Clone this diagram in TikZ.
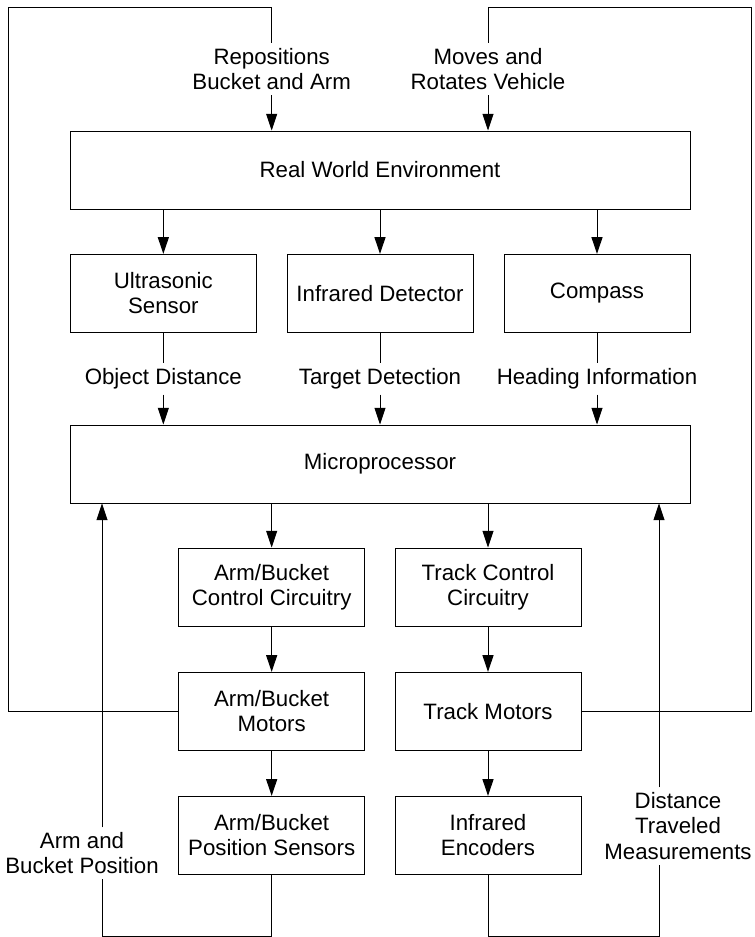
\documentclass[tikz,border=0pt]{standalone}
\usepackage{fontspec}
\setmainfont{Liberation Sans}
\usetikzlibrary{arrows.meta}

\begin{document}
\begin{tikzpicture}[
  font=\fontsize{19}{21.5}\selectfont,
  line width=0.8pt,
  >={Triangle[length=0.5cm, width=0.33cm]},
  blk/.style={draw, align=center, minimum height=2.34cm},
  wide/.style={blk, minimum width=18.6cm},
  unit/.style={blk, minimum width=5.58cm},
  lbl/.style={align=center, inner sep=4pt},
  arr/.style={->},
]
  \useasboundingbox (0,0) rectangle (22.62,28.11);

  % ===================== TOP: environment and sensors =====================
  \node[wide] (env) at (11.40,23.01) {Real World Environment};

  \node[unit] (ultra) at (4.90,19.31) {Ultrasonic\\Sensor};
  \node[unit] (irdet) at (11.40,19.31) {Infrared Detector};
  \node[unit] (comp)  at (17.91,19.31) {Compass};

  \draw[arr] (env.south -| ultra) -- (ultra.north);
  \draw[arr] (env.south -| irdet) -- (irdet.north);
  \draw[arr] (env.south -| comp) -- (comp.north);

  % sensor outputs
  \node[lbl] (dist) at (4.90,16.74) {Object Distance};
  \node[lbl] (tgt)  at (11.40,16.74) {Target Detection};
  \node[lbl] (head) at (17.91,16.74) {Heading Information};

  \node[wide] (micro) at (11.40,14.19) {Microprocessor};

  \draw (ultra) -- (dist);
  \draw (irdet) -- (tgt);
  \draw (comp) -- (head);
  \draw[arr] (dist) -- (dist |- micro.north);
  \draw[arr] (tgt) -- (tgt |- micro.north);
  \draw[arr] (head) -- (head |- micro.north);

  % ===================== BOTTOM: actuator chains =====================
  \node[unit] (armctl) at (8.15,10.50) {Arm/Bucket\\Control Circuitry};
  \node[unit] (trkctl) at (14.64,10.50) {Track Control\\Circuitry};
  \node[unit] (armmot) at (8.15,6.77) {Arm/Bucket\\Motors};
  \node[unit] (trkmot) at (14.64,6.77) {Track Motors};
  \node[unit] (armsen) at (8.15,3.05) {Arm/Bucket\\Position Sensors};
  \node[unit] (trkenc) at (14.64,3.05) {Infrared\\Encoders};

  \draw[arr] (micro.south -| armctl) -- (armctl.north);
  \draw[arr] (micro.south -| trkctl) -- (trkctl.north);
  \draw[arr] (armctl) -- (armmot);
  \draw[arr] (armmot) -- (armsen);
  \draw[arr] (trkctl) -- (trkmot);
  \draw[arr] (trkmot) -- (trkenc);

  % Outer loops: motors act on the world
  \coordinate (tl) at (0.24,27.90);
  \coordinate (tr) at (22.53,27.90);
  \node[lbl] (repos) at (8.15,26.03) {Repositions\\Bucket and Arm};
  \node[lbl] (moves) at (14.64,26.03) {Moves and\\Rotates Vehicle};

  \draw (armmot.west) -| (tl) -| (repos);
  \draw (trkmot.east) -| (tr) -| (moves);
  \draw[arr] (repos) -- (repos |- env.north);
  \draw[arr] (moves) -- (moves |- env.north);

  % Feedback loops back to the microprocessor
  \coordinate (bl) at (3.06,0.03);
  \coordinate (br) at (19.77,0.03);
  \node[lbl] (abpos) at (2.46,2.51) {Arm and\\Bucket Position};
  \node[lbl] (dtrav) at (20.34,3.33) {Distance\\Traveled\\Measurements};

  \draw (armsen.south) |- (bl) -- (bl |- abpos.south);
  \draw[arr] (bl |- abpos.north) -- (bl |- micro.south);
  \draw (trkenc.south) |- (br) -- (br |- dtrav.south);
  \draw[arr] (br |- dtrav.north) -- (br |- micro.south);
\end{tikzpicture}
\end{document}
